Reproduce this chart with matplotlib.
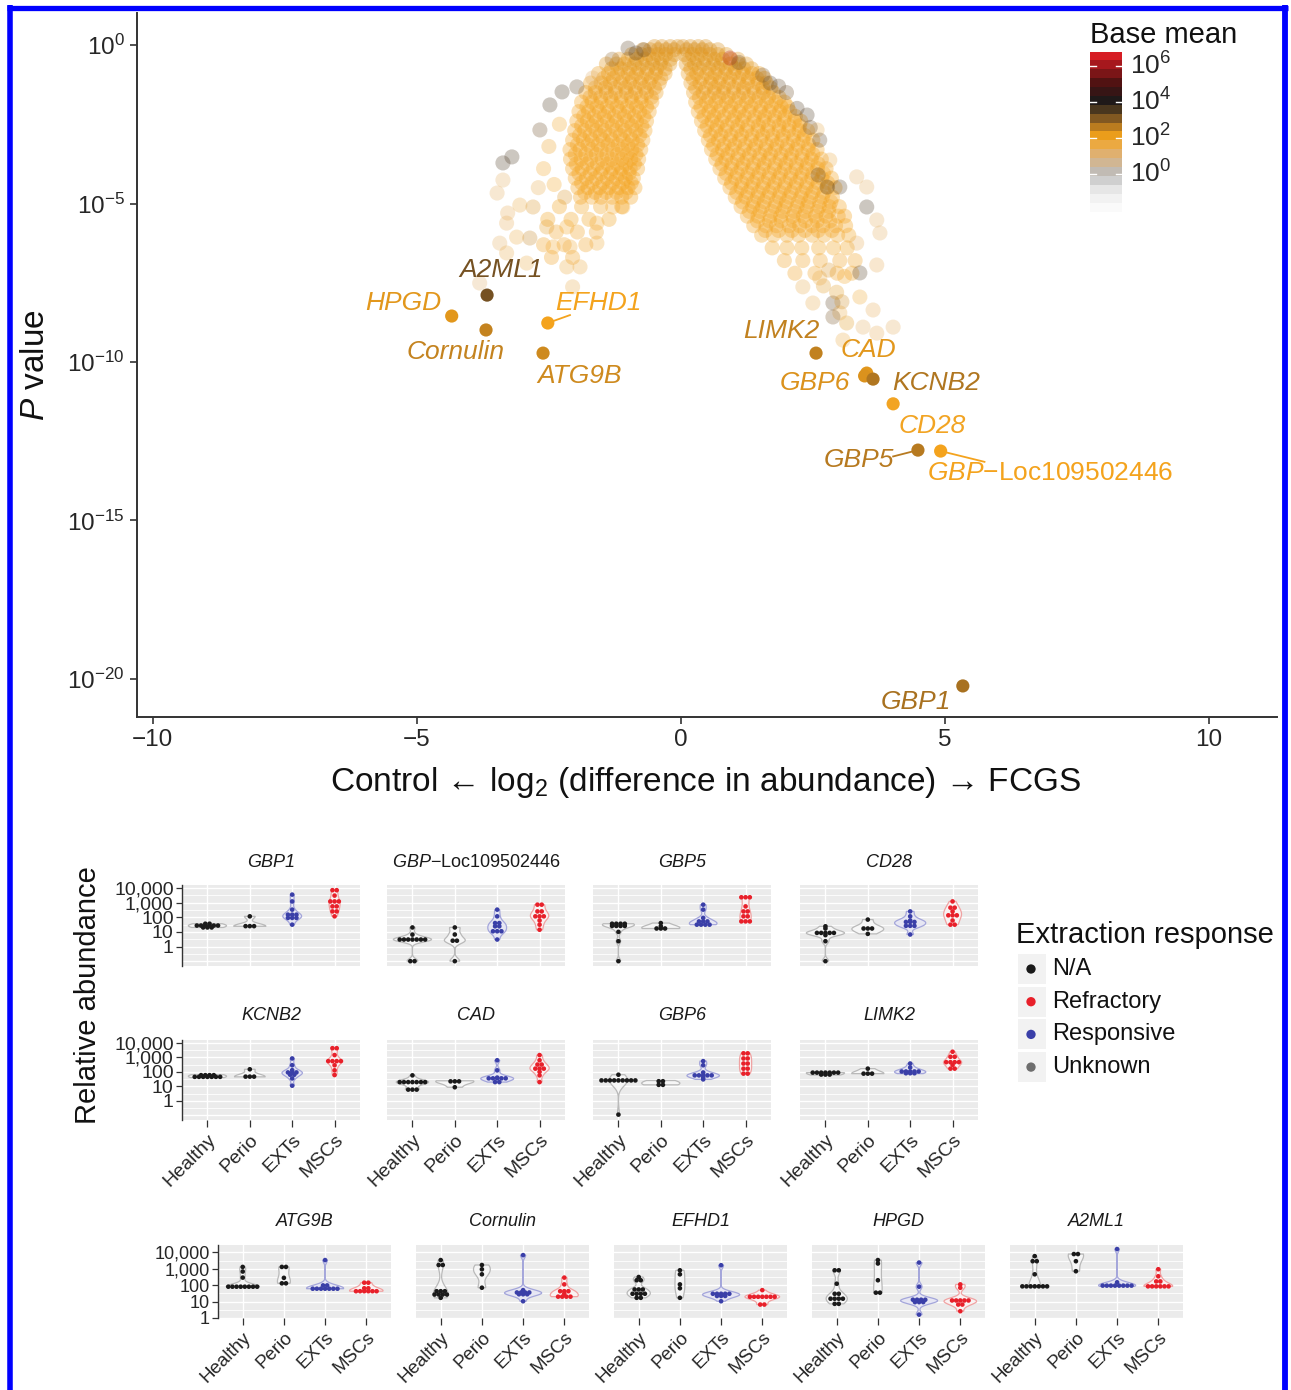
import numpy as np
import matplotlib
matplotlib.use("Agg")
import matplotlib.pyplot as plt
from matplotlib.colors import LinearSegmentedColormap, Normalize
from matplotlib.patches import Polygon, Rectangle
from matplotlib.ticker import NullLocator

plt.rcParams['font.family'] = ['Liberation Sans', 'DejaVu Sans']
plt.rcParams['mathtext.fontset'] = 'custom'
plt.rcParams['mathtext.rm'] = 'Liberation Sans'
plt.rcParams['mathtext.it'] = 'Liberation Sans:italic'
plt.rcParams['mathtext.bf'] = 'Liberation Sans:bold'
plt.rcParams['mathtext.sf'] = 'Liberation Sans'

# ======================= DATA =======================
# --- labelled genes in the volcano plot ---
genes = ['A2ML1', 'HPGD', 'Cornulin', 'EFHD1', 'ATG9B', 'LIMK2', 'CAD', 'GBP6',
         'KCNB2', 'CD28', 'GBP5', 'GBP-Loc109502446', 'GBP1']
gene_lfc = [-3.67, -4.34, -3.69, -2.52, -2.61, 2.56, 3.52, 3.48, 3.64, 4.02, 4.49, 4.92, 5.34]
gene_logp = [-7.89, -8.55, -8.99, -8.77, -9.72, -9.72, -10.35, -10.44, -10.54, -11.32,
             -12.78, -12.81, -20.22]
gene_logmean = [3.2, 2.2, 2.5, 2.0, 2.4, 2.55, 2.2, 2.25, 2.7, 1.9, 2.65, 2.0, 2.8]
# label anchor positions (lfc, log10 p)
lab_lfc = [-3.41, -5.25, -4.26, -1.57, -1.91, 1.91, 3.56, 2.54, 4.83, 4.75, 3.37, 6.99, 4.45]
lab_logp = [-7.10, -8.14, -9.68, -8.14, -10.44, -9.02, -9.62, -10.66, -10.66, -12.02,
            -13.09, -13.50, -20.73]

# --- background genes: right arm (rows of equal log10 p) ---
R_logp = [-0.05, -0.15, -0.3, -0.45, -0.6, -0.75, -0.9, -1.05, -1.2, -1.35, -1.5, -1.65,
          -1.8, -1.95, -2.1, -2.25, -2.4, -2.55, -2.7, -2.85, -3.0, -3.15, -3.3, -3.45,
          -3.6, -3.75, -3.9, -4.05, -4.2, -4.35, -4.5, -4.65, -4.8, -4.95, -5.1, -5.25,
          -5.4, -5.55, -5.7, -5.85, -6.0, -6.4, -6.8, -7.2]
R_lfc = [
    [0.04, 0.18, 0.33, 0.47],
    [0.11, 0.26, 0.41, 0.55, 0.70],
    [0.07, 0.22, 0.38, 0.55, 0.70, 0.86],
    [0.15, 0.31, 0.47, 0.64, 0.79, 0.95, 1.08],
    [0.10, 0.26, 0.43, 0.61, 0.76, 0.94, 1.09, 1.24],
    [0.19, 0.35, 0.53, 0.70, 0.86, 1.03, 1.19, 1.34],
    [0.14, 0.30, 0.49, 0.65, 0.84, 1.00, 1.17, 1.35, 1.48],
    [0.23, 0.40, 0.58, 0.75, 0.93, 1.10, 1.28, 1.44, 1.58],
    [0.19, 0.36, 0.56, 0.72, 0.90, 1.10, 1.26, 1.46, 1.62],
    [0.28, 0.47, 0.64, 0.82, 1.00, 1.19, 1.36, 1.55, 1.70],
    [0.24, 0.42, 0.63, 0.80, 1.00, 1.18, 1.39, 1.56, 1.75],
    [0.35, 0.53, 0.72, 0.90, 1.10, 1.28, 1.48, 1.66, 1.86],
    [0.28, 0.48, 0.66, 0.86, 1.03, 1.24, 1.41, 1.62, 1.80, 1.96],
    [0.38, 0.57, 0.76, 0.95, 1.14, 1.33, 1.52, 1.71, 1.90, 2.02],
    [0.33, 0.53, 0.71, 0.92, 1.10, 1.29, 1.50, 1.67, 1.87, 2.06],
    [0.44, 0.63, 0.82, 1.02, 1.20, 1.40, 1.59, 1.78, 1.97, 2.17],
    [0.39, 0.59, 0.77, 0.98, 1.16, 1.38, 1.56, 1.77, 1.95, 2.15, 2.27],
    [0.50, 0.69, 0.88, 1.08, 1.27, 1.47, 1.66, 1.86, 2.05, 2.25],
    [0.45, 0.66, 0.84, 1.06, 1.24, 1.46, 1.64, 1.86, 2.04, 2.24, 2.40],
    [0.56, 0.76, 0.95, 1.15, 1.35, 1.55, 1.74, 1.94, 2.14, 2.34],
    [0.52, 0.71, 0.93, 1.11, 1.33, 1.51, 1.73, 1.91, 2.13, 2.31, 2.50],
    [0.62, 0.82, 1.02, 1.22, 1.42, 1.62, 1.82, 2.02, 2.22, 2.42],
    [0.58, 0.79, 0.97, 1.19, 1.38, 1.60, 1.78, 2.00, 2.18, 2.41, 2.58],
    [0.69, 0.89, 1.09, 1.30, 1.50, 1.70, 1.90, 2.10, 2.30, 2.50],
    [0.66, 0.85, 1.07, 1.25, 1.48, 1.66, 1.88, 2.07, 2.29, 2.47, 2.66],
    [0.78, 0.97, 1.18, 1.38, 1.58, 1.79, 1.99, 2.19, 2.40, 2.60],
    [0.74, 0.95, 1.14, 1.36, 1.55, 1.77, 1.96, 2.18, 2.37, 2.59, 2.75],
    [0.86, 1.07, 1.27, 1.48, 1.68, 1.89, 2.09, 2.30, 2.50, 2.70],
    [0.83, 1.03, 1.25, 1.44, 1.66, 1.85, 2.07, 2.26, 2.48, 2.67, 2.85],
    [0.96, 1.16, 1.37, 1.57, 1.78, 1.98, 2.19, 2.39, 2.60, 2.78],
    [0.93, 1.14, 1.33, 1.55, 1.74, 1.96, 2.15, 2.37, 2.56, 2.78, 2.92],
    [1.06, 1.27, 1.47, 1.68, 1.88, 2.09, 2.30, 2.50, 2.71],
    [1.03, 1.23, 1.45, 1.64, 1.86, 2.05, 2.27, 2.46, 2.68, 2.87],
    [1.17, 1.38, 1.58, 1.80, 2.00, 2.22, 2.42, 2.63, 2.84],
    [1.14, 1.36, 1.55, 1.78, 1.97, 2.20, 2.39, 2.62, 2.81, 3.00],
    [1.30, 1.50, 1.72, 1.93, 2.15, 2.36, 2.58, 2.80],
    [1.26, 1.46, 1.69, 1.89, 2.12, 2.32, 2.55, 2.75, 2.98, 3.10],
    [1.45, 1.68, 1.90, 2.13, 2.36, 2.58, 2.82],
    [1.38, 1.61, 1.81, 2.05, 2.25, 2.49, 2.69, 2.93, 3.12],
    [1.60, 1.85, 2.10, 2.35, 2.60, 2.86],
    [1.53, 1.75, 2.01, 2.23, 2.49, 2.71, 2.97, 3.18],
    [1.73, 2.01, 2.29, 2.61, 2.89, 3.15],
    [1.96, 2.31, 2.64, 3.01, 3.30],
    [2.16, 2.54, 2.96, 3.24],
]
R_logmean = [2.3, 2.3, 2.2, 2.2, 2.2, 2.2, 2.1, 2.1, 2.1, 2.1, 2.1, 2.1,
             2.0, 2.0, 2.0, 2.0, 2.0, 2.0, 2.0, 2.0, 2.0, 2.0, 2.0, 2.0,
             2.0, 2.0, 2.0, 2.0, 2.0, 2.0, 2.0, 2.0, 2.0, 2.0, 2.0, 2.0,
             2.0, 2.0, 2.0, 1.9, 1.9, 1.9, 1.8, 1.8]

# --- background genes: left arm ---
L_logp = [-0.05, -0.15, -0.3, -0.45, -0.6, -0.75, -0.9, -1.05, -1.2, -1.35, -1.5, -1.65,
          -1.8, -1.95, -2.1, -2.25, -2.4, -2.55, -2.7, -2.85, -3.0, -3.15, -3.3, -3.45,
          -3.6, -3.75, -3.9, -4.05, -4.2, -4.35, -4.5, -4.65, -4.8, -5.1, -5.5, -5.9,
          -6.3, -6.7]
L_lfc = [
    [-0.50, -0.36, -0.20, -0.06],
    [-0.72, -0.58, -0.43, -0.28, -0.13],
    [-0.93, -0.75, -0.61, -0.44, -0.29, -0.12],
    [-1.17, -1.00, -0.84, -0.67, -0.52, -0.36, -0.20],
    [-1.41, -1.22, -1.07, -0.88, -0.73, -0.54, -0.39, -0.21],
    [-1.31, -1.14, -0.97, -0.80, -0.63, -0.46, -0.30],
    [-1.56, -1.37, -1.20, -1.00, -0.84, -0.65, -0.48, -0.30],
    [-1.46, -1.28, -1.10, -0.92, -0.74, -0.56, -0.38],
    [-1.71, -1.51, -1.34, -1.14, -0.97, -0.77, -0.60, -0.41],
    [-1.62, -1.43, -1.24, -1.05, -0.87, -0.69, -0.50],
    [-1.80, -1.62, -1.41, -1.24, -1.03, -0.86, -0.65, -0.47],
    [-1.72, -1.52, -1.33, -1.13, -0.94, -0.75, -0.56],
    [-1.88, -1.68, -1.51, -1.30, -1.13, -0.92, -0.75, -0.55],
    [-1.78, -1.59, -1.40, -1.21, -1.02, -0.84, -0.65],
    [-1.93, -1.75, -1.54, -1.37, -1.16, -0.99, -0.78, -0.60],
    [-1.84, -1.64, -1.45, -1.26, -1.07, -0.88, -0.70],
    [-1.97, -1.77, -1.60, -1.39, -1.22, -1.01, -0.84, -0.65],
    [-1.88, -1.68, -1.50, -1.30, -1.11, -0.93, -0.74],
    [-2.01, -1.82, -1.61, -1.44, -1.23, -1.06, -0.85, -0.68],
    [-1.92, -1.72, -1.53, -1.34, -1.15, -0.96, -0.78],
    [-2.05, -1.85, -1.68, -1.47, -1.30, -1.09, -0.92, -0.72],
    [-1.96, -1.76, -1.57, -1.38, -1.19, -1.00, -0.82],
    [-2.10, -1.91, -1.69, -1.51, -1.29, -1.11, -0.93, -0.76],
    [-2.00, -1.80, -1.60, -1.40, -1.20, -1.02, -0.85],
    [-2.09, -1.89, -1.71, -1.49, -1.31, -1.12, -0.95, -0.80],
    [-1.98, -1.78, -1.58, -1.39, -1.21, -1.04, -0.88],
    [-2.05, -1.87, -1.66, -1.48, -1.29, -1.12, -0.96, -0.82],
    [-1.93, -1.72, -1.52, -1.33, -1.15, -0.98],
    [-2.00, -1.79, -1.61, -1.40, -1.22, -1.05, -0.90],
    [-1.88, -1.68, -1.48, -1.29, -1.10, -0.94],
    [-1.95, -1.76, -1.54, -1.36, -1.17, -1.00, -0.87],
    [-1.82, -1.62, -1.42, -1.22, -1.04],
    [-1.90, -1.69, -1.51, -1.30, -1.12, -0.95],
    [-2.30, -1.88, -1.52, -1.12],
    [-2.52, -2.08, -1.74, -1.36],
    [-2.36, -1.96, -1.60],
    [-2.60, -2.21, -1.80],
    [-2.45, -2.05],
]
L_logmean = [2.3, 2.3, 2.2, 2.2, 2.2, 2.2, 2.1, 2.1, 2.1, 2.1, 2.1, 2.1,
             2.0, 2.0, 2.0, 2.0, 2.0, 2.0, 2.0, 2.0, 2.0, 2.0, 2.0, 2.0,
             2.0, 2.0, 2.0, 2.0, 2.0, 2.0, 2.0, 2.0, 2.0, 1.9, 1.9, 1.8, 1.8, 1.8]

# --- isolated background genes (lfc, log10 p, log10 base mean) ---
sc_lfc = [-2.25, -2.48, -1.97, -1.67, -2.67, -3.20, -3.37, -3.37, -3.48, -3.28, -3.05, -2.80,
          -3.30, -3.43, -3.30, -3.11, -2.86, -2.54, -2.42, -2.10, -2.16, -1.91, -2.05, -3.81,
          -2.92, -1.59, -1.59, -1.10, -1.29, -2.16, -2.30, -2.50, -2.60, -2.40, -2.20, -2.70,
          2.39, 2.58, 2.63, 2.82, 3.01, 2.77, 3.33, 3.52, 3.52, 3.71, 3.77, 3.33, 3.71, 3.39,
          2.63, 2.31, 2.50, 2.88, 3.39, 3.64, 4.02, 3.71, 3.45, 3.14, 3.01, 2.88, 3.07,
          2.70, 2.95, 3.05, 2.80, 3.10,
          -1.00, -0.85, -0.70, -1.30, 1.69, 1.85, 2.00, 1.55, 0.93, 1.10, 2.20, 2.45, 2.60]
sc_logp = [-1.48, -1.89, -1.32, -1.04, -2.68, -3.53, -3.72, -4.26, -4.67, -5.30, -5.05, -5.11,
           -5.62, -6.25, -6.56, -6.06, -6.09, -5.74, -6.37, -6.37, -7.00, -7.00, -7.63, -7.51,
           -6.88, -6.25, -5.62, -5.11, -5.11, -5.74, -2.50, -3.20, -3.90, -4.40, -4.80, -4.50,
           -2.21, -2.68, -3.00, -3.63, -4.48, -4.48, -4.16, -4.48, -5.11, -5.52, -5.93, -6.25,
           -6.94, -7.19, -7.35, -7.63, -8.14, -8.14, -7.95, -8.36, -8.90, -9.09, -8.90, -8.77,
           -8.45, -8.58, -9.31,
           -7.60, -7.80, -8.10, -7.10, -7.30,
           -0.10, -0.25, -0.15, -0.45, -1.20, -1.30, -1.50, -0.95, -0.41, -0.55, -2.00, -2.60,
           -4.10]
sc_logmean = [3.6, 3.6, 3.4, 1.2, 3.3, 3.6, 3.6, 1.3, 1.3, 1.4, 1.6, 2.3,
              1.4, 1.3, 1.5, 1.6, 2.5, 2.2, 2.0, 1.8, 1.7, 1.7, 1.5, 1.2,
              1.6, 1.8, 2.0, 2.0, 2.0, 2.0, 2.0, 2.1, 1.9, 2.0, 2.3, 1.5,
              3.6, 1.5, 3.4, 1.6, 3.5, 3.6, 1.3, 1.3, 3.6, 1.3, 1.3, 1.4,
              1.4, 3.5, 1.6, 1.5, 1.5, 3.4, 1.8, 1.4, 1.3, 1.4, 1.3, 2.2,
              1.6, 3.2, 1.6,
              2.2, 2.2, 2.4, 2.3, 2.0,
              3.4, 3.5, 3.3, 3.0, 3.5, 3.4, 3.3, 3.2, 6.2, 3.3, 3.5, 3.3, 3.4]

# --- base-mean colour scale (log10 base mean -> colour) ---
bm_nodes = [-2.1, -1.0, 0.0, 1.0, 2.0, 2.7, 3.3, 4.0, 5.0, 6.0, 6.8]
bm_colors = ['#ffffff', '#ececec', '#bdbdbd', '#deb27a', '#f4a31b', '#b27720', '#6a4a22',
             '#1c1a1a', '#4a1212', '#a0181c', '#ee2028']
bm_ticks = [0, 2, 4, 6]

# --- relative abundance per gene: [Healthy, Perio, EXTs, MSCs] ---
groups = ['Healthy', 'Perio', 'EXTs', 'MSCs']
responses = ['N/A', 'Refractory', 'Responsive', 'Unknown']
resp_colors = ['#1a1a1a', '#e8202a', '#3a3fa8', '#6e6e6e']
group_resp = [0, 0, 2, 1]

ab_GBP1 = [[36, 36, 27, 27, 27, 27, 27, 27, 20, 20, 20], [115, 26, 24, 24],
           [3500, 1200, 330, 150, 140, 160, 95, 90, 85, 31],
           [7000, 7000, 3000, 1200, 1200, 1200, 550, 550, 250, 250, 115]]
ab_GBPLoc = [[20, 6.5, 3.2, 3.0, 3.0, 3.0, 3.0, 3.0, 2.8, 0.1, 0.1], [20, 6.6, 2.5, 2.5, 0.1],
             [330, 115, 40, 40, 24, 24, 11, 11, 11, 3],
             [720, 720, 250, 250, 115, 115, 115, 60, 31, 14]]
ab_GBP5 = [[36, 36, 36, 36, 30, 24, 24, 24, 10, 2.3, 0.1], [40, 24, 17, 17, 17],
           [720, 330, 90, 60, 48, 48, 31, 31, 31, 31],
           [2300, 2300, 2300, 550, 250, 250, 115, 115, 52, 52, 52]]
ab_CD28 = [[24, 17, 8.5, 8.5, 8.5, 8.5, 8.5, 6, 2.3, 0.1], [69, 17, 17, 17, 7.3],
           [250, 115, 60, 52, 52, 40, 30, 24, 24, 6.6],
           [1200, 450, 450, 250, 135, 135, 135, 60, 31, 31]]
ab_KCNB2 = [[63, 63, 55, 55, 50, 50, 45, 45, 43, 43, 40], [150, 50, 45, 45],
            [840, 285, 130, 97, 97, 80, 70, 57, 35, 11],
            [4300, 4300, 1440, 550, 550, 550, 550, 285, 127, 60]]
ab_CAD = [[57, 19.5, 19.5, 19.5, 19.5, 19.5, 19.5, 19.5, 5.9, 5.9, 5.9], [24, 21, 21, 8.6],
          [630, 127, 40, 37, 37, 37, 37, 30, 19.5, 19.5],
          [1440, 630, 318, 318, 166, 166, 166, 100, 57, 19.5]]
ab_GBP6 = [[63, 30, 25, 25, 25, 25, 25, 25, 25, 25, 0.11], [25, 20, 12.6, 12.6],
           [550, 285, 90, 57, 57, 57, 57, 57, 40, 30],
           [1900, 1900, 840, 840, 375, 375, 166, 166, 75, 75]]
ab_LIMK2 = [[88, 88, 88, 88, 88, 88, 88, 75, 60, 60], [166, 75, 75, 75],
            [375, 200, 110, 110, 110, 100, 100, 90, 75, 75],
            [2450, 1100, 1100, 490, 490, 490, 400, 300, 166, 166]]
ab_ATG9B = [[1300, 680, 290, 81, 81, 81, 81, 81, 81, 81, 81], [1300, 1300, 280, 130, 130],
            [3400, 97, 97, 61, 61, 61, 61, 61, 61, 61],
            [142, 142, 70, 60, 43, 43, 43, 43, 43, 43]]
ab_Cornulin = [[3400, 1700, 1700, 43, 43, 43, 27, 27, 27, 27, 17], [1700, 930, 460, 70],
               [6800, 50, 36, 36, 36, 36, 30, 27, 27, 10.5],
               [290, 112, 43, 43, 43, 30, 20, 20, 20, 20]]
ab_EFHD1 = [[315, 200, 200, 55, 55, 55, 30, 30, 30, 30, 17, 17], [810, 460, 112, 65, 17],
            [1650, 30, 30, 30, 30, 30, 22, 22, 22, 10.5],
            [50, 22, 20, 20, 20, 20, 18, 18, 6.6, 6.6]]
ab_HPGD = [[810, 810, 123, 30, 30, 15, 15, 15, 15, 7.3, 7.3], [3400, 2100, 200, 35, 35],
           [2400, 81, 13, 13, 13, 13, 10, 10, 8, 1.6],
           [112, 70, 13, 13, 13, 10, 10, 6.6, 6.6, 2.6]]
ab_A2ML1 = [[5900, 2900, 2900, 460, 85, 85, 85, 85, 85, 85, 85], [7900, 7900, 2900, 710],
            [16000, 150, 100, 100, 100, 100, 100, 85, 85, 85],
            [940, 350, 170, 170, 85, 85, 85, 85, 85, 85]]

row1_titles = ['GBP1', 'GBP-Loc109502446', 'GBP5', 'CD28']
row2_titles = ['KCNB2', 'CAD', 'GBP6', 'LIMK2']
row3_titles = ['ATG9B', 'Cornulin', 'EFHD1', 'HPGD', 'A2ML1']
row1_data = [ab_GBP1, ab_GBPLoc, ab_GBP5, ab_CD28]
row2_data = [ab_KCNB2, ab_CAD, ab_GBP6, ab_LIMK2]
row3_data = [ab_ATG9B, ab_Cornulin, ab_EFHD1, ab_HPGD, ab_A2ML1]
ab_ticks = [1, 10, 100, 1000, 10000]
ab_ticklabels = ['1', '10', '100', '1,000', '10,000']

# ======================= FIGURE =======================
W, H = 1291, 1390
fig = plt.figure(figsize=(W / 100, H / 100), dpi=100)


def px_axes(x0, y0, x1, y1, **kw):
    return fig.add_axes([x0 / W, 1 - y1 / H, (x1 - x0) / W, (y1 - y0) / H], **kw)


cmap = LinearSegmentedColormap.from_list(
    'bm', [((v - bm_nodes[0]) / (bm_nodes[-1] - bm_nodes[0]), c) for v, c in zip(bm_nodes, bm_colors)])
norm = Normalize(bm_nodes[0], bm_nodes[-1])
TXT = '#262626'

# ---------------- volcano ----------------
ax = px_axes(137, 13, 1277, 717)
ax.set_yscale('log')
ax.set_xlim(-10.30, 11.29)
ax.set_ylim(10 ** -21.2, 10 ** 1.01)

dx, dy, dm, da = [], [], [], []
for lps, rows, lms in ((R_logp, R_lfc, R_logmean), (L_logp, L_lfc, L_logmean)):
    for lp, xs, lm in zip(lps, rows, lms):
        for x in xs:
            dx.append(x); dy.append(lp); dm.append(lm); da.append(0.33)
for x, lp, lm in zip(sc_lfc, sc_logp, sc_logmean):
    dx.append(x); dy.append(lp); dm.append(lm); da.append(0.28)
cols = cmap(norm(np.array(dm)))
cols[:, 3] = da
ax.scatter(dx, 10 ** np.array(dy), s=118, c=cols, edgecolors='none', zorder=2)

gcols = cmap(norm(np.array(gene_logmean)))
ax.scatter(gene_lfc, 10 ** np.array(gene_logp), s=90, c=gcols, edgecolors='none', zorder=5)
for i, g in enumerate(genes):
    if g.startswith('GBP-'):
        label, style = '$\\it{GBP}$\u2212Loc109502446', 'normal'
    else:
        label, style = g, 'italic'
    ax.text(lab_lfc[i], 10 ** lab_logp[i], label, color=gcols[i], fontsize=19,
            fontstyle=style, ha='center', va='center', zorder=6)
# connector segments (EFHD1, GBP5, GBP-Loc)
seg = {'EFHD1': (-2.10, -8.52), 'GBP5': (4.02, -12.98), 'GBP-Loc109502446': (5.75, -13.15)}
for g, (sx, sy) in seg.items():
    i = genes.index(g)
    ax.plot([gene_lfc[i], sx], [10 ** gene_logp[i], 10 ** sy], color=gcols[i], lw=1.3, zorder=4)

for s in ['top', 'right']:
    ax.spines[s].set_visible(False)
for s in ['left', 'bottom']:
    ax.spines[s].set_color('#333333')
    ax.spines[s].set_linewidth(1.4)
ax.set_xticks([-10, -5, 0, 5, 10])
ax.set_xticklabels(['\u221210', '\u22125', '0', '5', '10'])
ax.set_yticks([1, 1e-5, 1e-10, 1e-15, 1e-20])
ax.set_yticklabels(['$10^{0}$', '$10^{-5}$', '$10^{-10}$', '$10^{-15}$', '$10^{-20}$'])
ax.yaxis.set_minor_locator(NullLocator())
ax.tick_params(direction='out', length=5, width=1.2, color='#333333', labelsize=17.5,
               labelcolor=TXT, pad=4)
ax.patch.set_alpha(0)

fig.text(706 / W, 1 - 782 / H, 'Control \u2190 log$_2$ (difference in abundance) \u2192 FCGS',
         fontsize=24, ha='center', va='center', color='#111111')
fig.text(35 / W, 1 - 365 / H, '$\\it{P}$ value', fontsize=24, rotation=90,
         ha='center', va='center', color='#111111')

# ---------------- base mean colour bar ----------------
cax = px_axes(1090, 52, 1122, 212)
nb = 18
edges = np.linspace(bm_nodes[0], bm_nodes[-1], nb + 1)
centers = (edges[:-1] + edges[1:]) / 2
cax.imshow(centers[::-1].reshape(-1, 1), cmap=cmap, norm=norm, aspect='auto',
           extent=[0, 1, bm_nodes[0], bm_nodes[-1]], interpolation='nearest')
for v in bm_ticks:
    cax.plot([0, 0.2], [v, v], color='white', lw=1)
    cax.plot([0.8, 1], [v, v], color='white', lw=1)
    cax.text(1.25, v, '$10^{%d}$' % v, fontsize=19, ha='left', va='center', color=TXT)
cax.set_xlim(0, 1)
cax.set_ylim(bm_nodes[0], bm_nodes[-1])
cax.axis('off')
fig.text(1090 / W, 1 - 35 / H, 'Base mean', fontsize=21, ha='left', va='center', color='#111111')


# ---------------- violin / dot panels ----------------
def kde(vals, grid):
    v = np.asarray(vals, float)
    n = len(v)
    sd = v.std(ddof=1)
    q75, q25 = np.percentile(v, [75, 25])
    lo = min(sd, (q75 - q25) / 1.34)
    if lo <= 0:
        lo = sd if sd > 0 else 1.0
    bw = max(0.9 * lo * n ** -0.2, 0.17)
    return np.exp(-0.5 * ((grid[:, None] - v[None, :]) / bw) ** 2).sum(1) / (n * bw * np.sqrt(2 * np.pi))


vio_edge = ['#b3b3b3', '#b3b3b3', '#9c9ed8', '#f09a9a']
vio_fill = ['#f8f8f8', '#f8f8f8', '#e6e6f5', '#fbf3f3']


def panel(x0, y0, x1, y1, data, title, ylo, yhi, first, show_x, title_y, tfs, lfs, xfs):
    a = px_axes(x0, y0, x1, y1)
    a.set_facecolor('#ebebeb')
    a.set_yscale('log')
    a.set_xlim(0.4, 4.6)
    a.set_ylim(10 ** ylo, 10 ** yhi)
    for k in np.arange(np.ceil(ylo * 2) / 2, yhi, 0.5):
        a.axhline(10 ** k, color='white', lw=1.0 if abs(k - round(k)) < 1e-6 else 0.6, zorder=0)
    for k in range(1, 5):
        a.axvline(k, color='white', lw=1.0, zorder=0)
    logs = [np.log10(np.asarray(d, float)) for d in data]
    dens = []
    for lv in logs:
        grid = np.linspace(lv.min(), lv.max(), 120)
        dens.append((grid, kde(lv, grid)))
    gmax = max(d.max() for _, d in dens)
    for i, (grid, d) in enumerate(dens):
        w = d / gmax * 0.45
        xs = np.concatenate([i + 1 + w, (i + 1 - w)[::-1]])
        ys = np.concatenate([10 ** grid, (10 ** grid)[::-1]])
        a.add_patch(Polygon(np.column_stack([xs, ys]), closed=True, facecolor=vio_fill[i],
                            edgecolor=vio_edge[i], lw=0.9, alpha=0.9, zorder=2))
    for i, lv in enumerate(logs):
        sv = np.sort(lv)
        bins = []
        for v in sv:
            if bins and v - bins[-1][0] <= 0.12:
                bins[-1].append(v)
            else:
                bins.append([v])
        px, py = [], []
        for b in bins:
            n = len(b)
            c = np.mean(b)
            for j in range(n):
                px.append(i + 1 + (j - (n - 1) / 2) * 0.1)
                py.append(10 ** c)
        a.scatter(px, py, s=11, color=resp_colors[group_resp[i]], edgecolors='none', zorder=3)
    for s in ['top', 'right', 'bottom']:
        a.spines[s].set_visible(False)
    a.yaxis.set_minor_locator(NullLocator())
    if first:
        a.spines['left'].set_color('#333333')
        a.spines['left'].set_linewidth(1.0)
        a.set_yticks(ab_ticks)
        a.set_yticklabels(ab_ticklabels)
        a.tick_params(axis='y', direction='out', length=4, width=0.9, color='#333333',
                      labelsize=lfs, labelcolor=TXT, pad=2)
    else:
        a.spines['left'].set_visible(False)
        a.set_yticks([])
    a.set_xticks([1, 2, 3, 4])
    if show_x:
        a.set_xticklabels(groups, rotation=45, ha='right', va='top', rotation_mode='anchor')
        a.tick_params(axis='x', direction='out', length=5, width=0.9, color='#333333',
                      labelsize=xfs, labelcolor=TXT, pad=3)
    else:
        a.tick_params(axis='x', length=0, labelbottom=False)
    if title.startswith('GBP-'):
        t, st = '$\\it{GBP}$\u2212Loc109502446', 'normal'
    else:
        t, st = title, 'italic'
    fig.text((x0 + x1) / 2 / W, 1 - title_y / H, t, fontsize=tfs, fontstyle=st,
             ha='center', va='center', color='#1a1a1a')
    return a


r12_x = [182, 387, 593, 800]
for j in range(4):
    panel(r12_x[j], 885, r12_x[j] + 178, 966, row1_data[j], row1_titles[j], -1.33, 4.2,
          j == 0, False, 862, 13, 14, 14)
    panel(r12_x[j], 1040, r12_x[j] + 178, 1120, row2_data[j], row2_titles[j], -1.33, 4.2,
          j == 0, True, 1016, 13, 14, 14)
r3_x = [218, 416, 614, 812, 1010]
for j in range(5):
    panel(r3_x[j], 1245, r3_x[j] + 173, 1318, row3_data[j], row3_titles[j], 0.0, 4.45,
          j == 0, True, 1222, 13, 13, 13.5)

fig.text(88 / W, 1 - 995 / H, 'Relative abundance', fontsize=21, rotation=90,
         ha='center', va='center', color='#111111')

# ---------------- overlay: legend + frame ----------------
ov = px_axes(0, 0, W, H, zorder=20)
ov.set_xlim(0, W)
ov.set_ylim(H, 0)
ov.axis('off')
ov.patch.set_alpha(0)
ov.text(1016, 935, 'Extraction response', fontsize=21, ha='left', va='center', color='#111111')
for i, (lab, col) in enumerate(zip(responses, resp_colors)):
    yc = 969 + 32.7 * i
    ov.add_patch(Rectangle((1018, yc - 15), 28, 30, facecolor='#f2f2f2', edgecolor='none'))
    ov.scatter([1031], [yc], s=45, color=col, edgecolors='none')
    ov.text(1052, yc, lab, fontsize=17, ha='left', va='center', color='#111111')

ov.plot([9.5, 9.5], [5, H], color='#0000ff', lw=4.0, solid_capstyle='butt')
ov.plot([7, 1288], [7.5, 7.5], color='#0000ff', lw=3.8, solid_capstyle='butt')
ov.plot([1285, 1285], [5, H], color='#0000ff', lw=4.2, solid_capstyle='butt')

fig.savefig('out.png', dpi=100)
